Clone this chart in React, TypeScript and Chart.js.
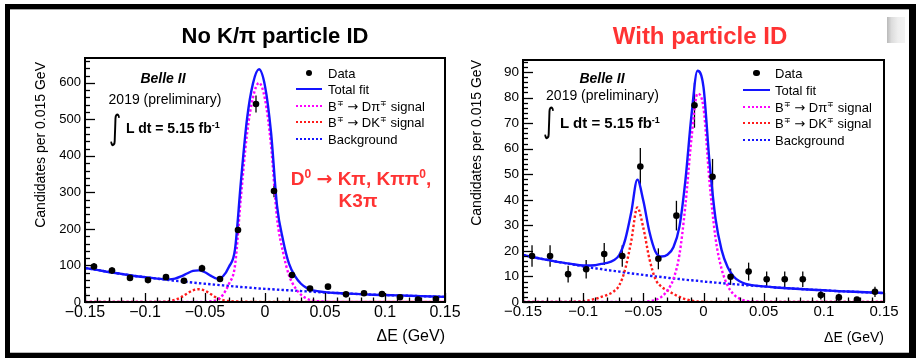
import React, { useEffect, useRef } from "react";
import { Chart, registerables } from "chart.js";

Chart.register(...registerables);

const FONT = '"Liberation Sans", Arial, Helvetica, sans-serif';
const BLUE = "#1414ff";
const MAGENTA = "#ff00ff";
const RED = "#ff1a1a";
const TITLE_RED = "#ff3333";

// ---------- data ----------
const binCenters = [-0.1425, -0.1275, -0.1125, -0.0975, -0.0825, -0.0675, -0.0525, -0.0375, -0.0225, -0.0075, 0.0075, 0.0225, 0.0375, 0.0525, 0.0675, 0.0825, 0.0975, 0.1125, 0.1275, 0.1425];
const xTickValues = [-0.15, -0.1, -0.05, 0, 0.05, 0.1, 0.15];
const xTickLabels = ["\u22120.15", "\u22120.1", "\u22120.05", "0", "0.05", "0.1", "0.15"];
const leftYTicks = [0, 100, 200, 300, 400, 500, 600];
const rightYTicks = [0, 10, 20, 30, 40, 50, 60, 70, 80, 90];

const leftCounts = [97, 86, 66, 60, 68, 58, 92, 63, 197, 542, 304, 74, 37, 42, 21, 24, 22, 13, 7, 8];
const leftErrors = [10, 9, 8, 8, 8, 8, 10, 8, 14, 23, 17, 9, 6, 6, 5, 5, 5, 4, 3, 3];
const rightCounts = [18, 18, 10.9, 12.8, 18.8, 18, 53, 16.9, 33.8, 77, 49, 9.9, 11.9, 8.9, 8.9, 8.9, 2.7, 1.8, 1, 4];
const rightErrors = [4.2, 4.2, 3.3, 3.6, 4.3, 4.2, 7.3, 4.1, 5.8, 8.8, 7, 3.2, 3.5, 3, 3, 3, 1.7, 1.4, 1, 2];

const curveX = [-0.15, -0.14, -0.13, -0.12, -0.11, -0.1, -0.09, -0.085, -0.08, -0.075, -0.07, -0.065, -0.06, -0.055, -0.05, -0.045, -0.04, -0.035, -0.03, -0.025, -0.02, -0.015, -0.01, -0.005, 0, 0.005, 0.01, 0.015, 0.02, 0.025, 0.03, 0.035, 0.04, 0.05, 0.06, 0.07, 0.08, 0.09, 0.1, 0.11, 0.12, 0.13, 0.14, 0.15];

const leftBackground = [93, 88, 82, 77, 72, 68, 64, 62, 60, 58, 57, 55, 53, 51.5, 50, 48.5, 47, 45.5, 44, 42.5, 41, 40, 38.5, 37, 36, 35, 34, 33, 32, 31, 30, 29, 28, 26, 24.5, 23, 21.5, 20, 19, 18, 17, 16, 15, 14];
const leftDKSignal = [0, 0, 0, 0, 0, 0, 0, 0.5, 2, 6, 13, 23, 32, 35, 31, 21, 11, 5, 2.5, 1.5, 1, 0.5, 0, 0, 0, 0, 0, 0, 0, 0, 0, 0, 0, 0, 0, 0, 0, 0, 0, 0, 0, 0, 0, 0];
const leftDPiSignal = [0, 0, 0, 0, 0, 0, 0, 0, 0, 0, 0, 0, 0, 0, 0.5, 2, 6, 20, 50, 100, 290, 460, 560, 600, 555, 430, 230, 137, 73, 40, 20, 9, 4, 1, 0, 0, 0, 0, 0, 0, 0, 0, 0, 0];
const leftTotalFit = [93, 88, 82, 77, 72, 68, 64, 62.5, 62, 64, 70, 78, 85, 86.5, 81.5, 71.5, 64, 70.5, 96.5, 144, 332, 500.5, 598.5, 637, 591, 465, 264, 170, 105, 71, 50, 38, 32, 27, 24.5, 23, 21.5, 20, 19, 18, 17, 16, 15, 14];

const rightBackground = [18.4, 17.4, 16.5, 15.6, 14.8, 14.0, 13.2, 12.9, 12.5, 12.2, 11.9, 11.5, 11.2, 10.9, 10.6, 10.3, 10.0, 9.8, 9.5, 9.2, 9.0, 8.7, 8.5, 8.3, 8.0, 7.8, 7.6, 7.4, 7.2, 7.0, 6.8, 6.6, 6.4, 6.1, 5.7, 5.4, 5.1, 4.8, 4.6, 4.3, 4.1, 3.9, 3.7, 3.5];
const rightDKSignal = [0, 0, 0, 0, 0.1, 0.3, 1.2, 2, 2.8, 4, 6.5, 13, 24, 37, 29, 17, 9, 6, 4.5, 3.2, 2, 1.1, 0.5, 0.2, 0.1, 0, 0, 0, 0, 0, 0, 0, 0, 0, 0, 0, 0, 0, 0, 0, 0, 0, 0, 0];
const rightDPiSignal = [0, 0, 0, 0, 0, 0, 0, 0, 0, 0, 0, 0, 0, 0, 0, 0.3, 0.8, 2, 4.5, 9, 18.5, 38, 64, 81.5, 76, 47, 25, 13, 6.5, 3, 1.3, 0.5, 0.2, 0, 0, 0, 0, 0, 0, 0, 0, 0, 0, 0];
const rightTotalFit = [18.4, 17.4, 16.5, 15.6, 14.9, 14.3, 14.4, 14.9, 15.3, 16.2, 18.4, 24.5, 35.2, 47.9, 39.6, 27.6, 19.8, 17.8, 18.5, 21.4, 29.5, 47.8, 73, 90.5, 84.1, 54.8, 32.6, 20.4, 13.7, 10, 8.1, 7.1, 6.6, 6.1, 5.7, 5.4, 5.1, 4.8, 4.6, 4.3, 4.1, 3.9, 3.7, 3.5];

// ---------- panel specs ----------
type Spec = {
  left: number; top: number; width: number; height: number;
  plotLeft: number; plotTop: number; plotRight: number; plotBottom: number;
  yMax: number; yTicks: number[]; yMinorStep: number;
  xTickSize: number; yTickSize: number;
  counts: number[]; errors: number[];
  total: number[]; dpi: number[]; dk: number[]; bkg: number[];
};

const leftSpec: Spec = {
  left: 10, top: 10, width: 460, height: 342,
  plotLeft: 85, plotTop: 58, plotRight: 445, plotBottom: 302,
  yMax: 668, yTicks: leftYTicks, yMinorStep: 20,
  xTickSize: 16, yTickSize: 13,
  counts: leftCounts, errors: leftErrors,
  total: leftTotalFit, dpi: leftDPiSignal, dk: leftDKSignal, bkg: leftBackground,
};

const rightSpec: Spec = {
  left: 458, top: 10, width: 451, height: 342,
  plotLeft: 523, plotTop: 60, plotRight: 884, plotBottom: 302,
  yMax: 94.7, yTicks: rightYTicks, yMinorStep: 2,
  xTickSize: 15, yTickSize: 13.5,
  counts: rightCounts, errors: rightErrors,
  total: rightTotalFit, dpi: rightDPiSignal, dk: rightDKSignal, bkg: rightBackground,
};

function buildConfig(s: Spec): any {
  const pts = (ys: number[]) => curveX.map((x, i) => ({ x, y: ys[i] }));
  const curve = (label: string, ys: number[], color: string, dotted: boolean) => ({
    label,
    data: pts(ys),
    showLine: true,
    borderColor: color,
    borderWidth: 2.4,
    borderDash: dotted ? [2.4, 2.2] : [],
    pointRadius: 0,
    pointHoverRadius: 0,
    fill: false,
    cubicInterpolationMode: "monotone",
  });

  const rootPlugin = {
    id: "rootStyle",
    beforeDatasetsDraw(chart: any) {
      const { ctx, scales } = chart;
      const x = scales.x, y = scales.y;
      ctx.save();
      ctx.strokeStyle = "#000";
      ctx.lineWidth = 1.3;
      s.counts.forEach((c, i) => {
        const px = x.getPixelForValue(binCenters[i]);
        ctx.beginPath();
        ctx.moveTo(px, y.getPixelForValue(Math.max(0, c - s.errors[i])));
        ctx.lineTo(px, y.getPixelForValue(c + s.errors[i]));
        ctx.stroke();
      });
      ctx.restore();
    },
    afterDraw(chart: any) {
      const { ctx, chartArea: a, scales } = chart;
      const x = scales.x, y = scales.y;
      ctx.save();
      ctx.strokeStyle = "#000";
      ctx.lineWidth = 1.3;
      for (let k = -15; k <= 15; k++) {
        const major = k % 5 === 0;
        const px = Math.round(x.getPixelForValue(k * 0.01)) + 0.5;
        ctx.beginPath();
        ctx.moveTo(px, a.bottom);
        ctx.lineTo(px, a.bottom - (major ? 9 : 4.5));
        ctx.stroke();
      }
      for (let v = 0; v <= s.yMax + 1e-9; v += s.yMinorStep) {
        const major = s.yTicks.some((t) => Math.abs(t - v) < 1e-6);
        const py = Math.round(y.getPixelForValue(v)) + 0.5;
        ctx.beginPath();
        ctx.moveTo(a.left, py);
        ctx.lineTo(a.left + (major ? 10 : 5), py);
        ctx.stroke();
      }
      ctx.lineWidth = 2;
      ctx.strokeRect(a.left, a.top, a.right - a.left, a.bottom - a.top);
      ctx.restore();
    },
  };

  return {
    type: "scatter",
    data: {
      datasets: [
        {
          label: "Data",
          data: binCenters.map((x, i) => ({ x, y: s.counts[i] })),
          showLine: false,
          pointRadius: 3.3,
          pointHoverRadius: 3.3,
          pointBackgroundColor: "#000",
          pointBorderColor: "#000",
          pointBorderWidth: 0,
        },
        curve("Total fit", s.total, BLUE, false),
        curve("B\u2213 \u2192 D\u03c0\u2213 signal", s.dpi, MAGENTA, true),
        curve("B\u2213 \u2192 DK\u2213 signal", s.dk, RED, true),
        curve("Background", s.bkg, BLUE, true),
      ],
    },
    options: {
      animation: false,
      responsive: false,
      devicePixelRatio: 1,
      events: [],
      layout: {
        padding: {
          top: s.plotTop - s.top,
          right: s.left + s.width - s.plotRight,
          left: 0,
          bottom: 0,
        },
      },
      plugins: { legend: { display: false }, tooltip: { enabled: false }, title: { display: false } },
      scales: {
        x: {
          type: "linear",
          min: -0.15,
          max: 0.15,
          grid: { display: false, drawTicks: false },
          border: { display: false },
          afterBuildTicks: (sc: any) => {
            sc.ticks = xTickValues.map((v) => ({ value: v }));
          },
          afterFit: (sc: any) => {
            sc.height = s.top + s.height - s.plotBottom;
          },
          ticks: {
            autoSkip: false,
            maxRotation: 0,
            padding: 1,
            color: "#000",
            font: { family: FONT, size: s.xTickSize },
            callback: (v: number) => {
              const i = xTickValues.findIndex((t) => Math.abs(t - v) < 1e-9);
              return i >= 0 ? xTickLabels[i] : "";
            },
          },
        },
        y: {
          type: "linear",
          min: 0,
          max: s.yMax,
          grid: { display: false, drawTicks: false },
          border: { display: false },
          afterBuildTicks: (sc: any) => {
            sc.ticks = s.yTicks.map((v) => ({ value: v }));
          },
          afterFit: (sc: any) => {
            sc.width = s.plotLeft - s.left;
          },
          ticks: {
            autoSkip: false,
            padding: 4,
            color: "#000",
            font: { family: FONT, size: s.yTickSize },
            callback: (v: number) => String(v),
          },
        },
      },
    },
    plugins: [rootPlugin],
  };
}

function Panel({ spec }: { spec: Spec }) {
  const ref = useRef<HTMLCanvasElement>(null);
  useEffect(() => {
    const chart = new Chart(ref.current as HTMLCanvasElement, buildConfig(spec));
    return () => chart.destroy();
  }, [spec]);
  return (
    <canvas
      ref={ref}
      width={spec.width}
      height={spec.height}
      style={{ position: "absolute", left: spec.left, top: spec.top, width: spec.width, height: spec.height }}
    />
  );
}

// ---------- text helpers ----------
type TProps = {
  x: number; y: number; size: number; bold?: boolean; italic?: boolean;
  color?: string; align?: "left" | "center" | "right"; family?: string; children?: React.ReactNode;
};
function T({ x, y, size, bold, italic, color = "#000", align = "left", family = FONT, children }: TProps) {
  const tx = align === "center" ? "translateX(-50%)" : align === "right" ? "translateX(-100%)" : undefined;
  return (
    <div
      style={{
        position: "absolute",
        left: x,
        top: y - 0.8465 * size,
        fontSize: size,
        lineHeight: `${size}px`,
        fontWeight: bold ? 700 : 400,
        fontStyle: italic ? "italic" : "normal",
        color,
        fontFamily: family,
        whiteSpace: "nowrap",
        transform: tx,
      }}
    >
      {children}
    </div>
  );
}

function Sup({ size, raise, children }: { size: number; raise: number; children: React.ReactNode }) {
  return <span style={{ fontSize: size, position: "relative", top: -raise, lineHeight: 0 }}>{children}</span>;
}

function Arrow() {
  return <span style={{ fontFamily: '"DejaVu Sans", sans-serif', lineHeight: 0 }}>{"\u2192"}</span>;
}

function YTitle({ baseX, topY, size, text }: { baseX: number; topY: number; size: number; text: string }) {
  const W = 300;
  return (
    <div
      style={{
        position: "absolute",
        left: baseX - 0.8465 * size,
        top: topY + W,
        width: W,
        textAlign: "right",
        fontSize: size,
        lineHeight: `${size}px`,
        fontFamily: FONT,
        whiteSpace: "nowrap",
        transformOrigin: "0 0",
        transform: "rotate(-90deg)",
        color: "#000",
      }}
    >
      {text}
    </div>
  );
}

function Integral({ x, bottom, textX, baseline, size }: { x: number; bottom: number; textX: number; baseline: number; size: number }) {
  return (
    <>
      <div
        style={{
          position: "absolute",
          left: x,
          top: bottom - 36,
          fontSize: 34,
          lineHeight: "34px",
          fontFamily: '"DejaVu Sans", sans-serif',
          transform: "scaleX(0.7)",
          transformOrigin: "0 0",
          color: "#000",
        }}
      >
        {"\u222b"}
      </div>
      <T x={textX} y={baseline} size={size} bold>
        L dt = 5.15 fb<Sup size={9} raise={5}>-1</Sup>
      </T>
    </>
  );
}

function Legend({ lx0, lx1, tx, rows, size }: { lx0: number; lx1: number; tx: number; rows: number[]; size: number }) {
  const line = (cy: number, color: string, dotted: boolean, key: string) => (
    <div
      key={key}
      style={{
        position: "absolute",
        left: lx0,
        top: cy - 1.2,
        width: lx1 - lx0,
        height: 0,
        borderTop: `2.4px ${dotted ? "dotted" : "solid"} ${color}`,
      }}
    />
  );
  const off = 4.6;
  const sup = (t: string) => <Sup size={8} raise={5}>{t}</Sup>;
  return (
    <>
      <div
        style={{
          position: "absolute",
          left: (lx0 + lx1) / 2 - 3.3,
          top: rows[0] - 3.3,
          width: 6.6,
          height: 6.6,
          borderRadius: "50%",
          background: "#000",
        }}
      />
      {line(rows[1], BLUE, false, "l1")}
      {line(rows[2], MAGENTA, true, "l2")}
      {line(rows[3], RED, true, "l3")}
      {line(rows[4], BLUE, true, "l4")}
      <T x={tx} y={rows[0] + off} size={size}>Data</T>
      <T x={tx} y={rows[1] + off} size={size}>Total fit</T>
      <T x={tx} y={rows[2] + off} size={size}>
        B{sup("\u2213")} <Arrow /> D{"\u03c0"}{sup("\u2213")} signal
      </T>
      <T x={tx} y={rows[3] + off} size={size}>
        B{sup("\u2213")} <Arrow /> DK{sup("\u2213")} signal
      </T>
      <T x={tx} y={rows[4] + off} size={size}>Background</T>
    </>
  );
}

export default function App() {
  const band = (l: number, t: number, w: number, h: number, c: string, k: string) => (
    <div key={k} style={{ position: "absolute", left: l, top: t, width: w, height: h, background: c }} />
  );
  return (
    <div
      style={{
        position: "fixed",
        left: 0,
        top: 0,
        width: 916,
        height: 358,
        background: "#fff",
        overflow: "hidden",
        fontFamily: FONT,
      }}
    >
      <Panel spec={leftSpec} />
      <Panel spec={rightSpec} />

      {/* outer frame */}
      {band(10, 9, 899, 1, "#a8a8a8", "g1")}
      {band(10, 352, 899, 1, "#b8b8b8", "g2")}
      {band(5, 4, 911, 5, "#000", "b1")}
      {band(5, 4, 5, 354, "#000", "b2")}
      {band(909, 4, 7, 354, "#000", "b3")}
      {band(5, 353, 911, 5, "#000", "b4")}
      <div
        style={{
          position: "absolute",
          left: 887,
          top: 17,
          width: 18,
          height: 26,
          background: "linear-gradient(to right, #b9b9b9 0%, #dcdcdc 25%, #eeeeee 60%, #f3f3f3 100%)",
        }}
      />

      {/* left panel texts */}
      <T x={275} y={44} size={22} bold align="center">No K/{"\u03c0"} particle ID</T>
      <T x={163} y={83} size={14} bold italic align="center">Belle II</T>
      <T x={165} y={103.5} size={14} align="center">2019 (preliminary)</T>
      <Integral x={109} bottom={146} textX={126} baseline={133} size={14} />
      <Legend lx0={296} lx1={322} tx={328} rows={[73, 89.5, 106, 122.5, 139]} size={13} />
      <T x={361} y={185} size={19} bold color={TITLE_RED} align="center">
        D<Sup size={12} raise={7}>0</Sup> <Arrow /> K{"\u03c0"}, K{"\u03c0\u03c0"}<Sup size={12} raise={7}>0</Sup>,
      </T>
      <T x={358} y={207} size={19} bold color={TITLE_RED} align="center">K3{"\u03c0"}</T>
      <YTitle baseX={45} topY={62} size={14} text="Candidates per 0.015 GeV" />
      <T x={445} y={341.5} size={16} align="right">{"\u0394"}E (GeV)</T>

      {/* right panel texts */}
      <T x={700} y={44} size={24} bold color={TITLE_RED} align="center">With particle ID</T>
      <T x={602} y={83} size={14} bold italic align="center">Belle II</T>
      <T x={602.5} y={100} size={14} align="center">2019 (preliminary)</T>
      <Integral x={543} bottom={139} textX={560} baseline={128} size={15} />
      <Legend lx0={743} lx1={770} tx={775} rows={[73, 90, 107, 123.5, 140]} size={13} />
      <YTitle baseX={481} topY={60} size={14} text="Candidates per 0.015 GeV" />
      <T x={884} y={341.7} size={14} align="right">{"\u0394"}E (GeV)</T>
    </div>
  );
}
